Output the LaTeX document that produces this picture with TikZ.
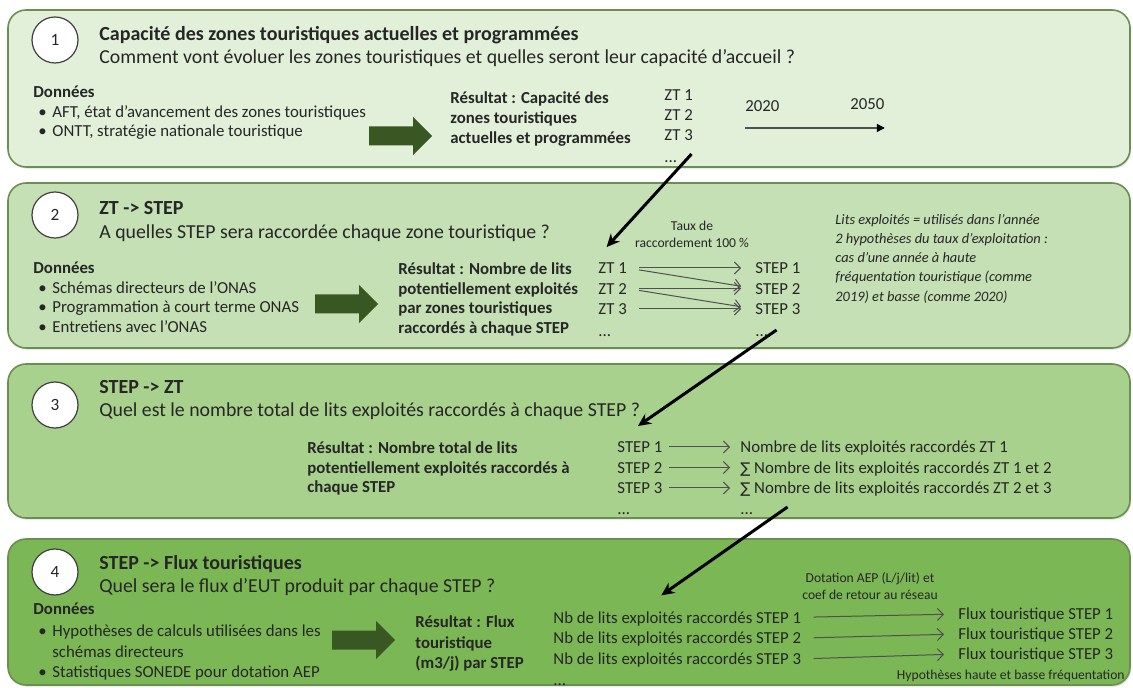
\documentclass[tikz,border=0pt]{standalone}
\usepackage{fontspec}
\setmainfont{Carlito}
\newfontfamily\symfont{DejaVu Sans}
\usepackage{tikz}
\usetikzlibrary{positioning,arrows.meta,shadows}
\definecolor{pone}{HTML}{E2F0D9}
\definecolor{ptwo}{HTML}{C5E0B4}
\definecolor{pthree}{HTML}{A9D18E}
\definecolor{pfour}{HTML}{7BB755}
\definecolor{panelline}{HTML}{6A8F50}
\definecolor{numline}{HTML}{404040}
\definecolor{arrowgreen}{HTML}{385723}
\definecolor{flowgrey}{HTML}{505050}
\definecolor{ink}{HTML}{262626}
\newcommand{\nsum}{{\symfont\fontsize{7.4}{9}\selectfont ∑}}
\tikzset{%
	panel/.style={
		draw=panelline,
		line width=0.8pt,
		rounded corners=9pt,
		drop shadow={opacity=0.25, shadow xshift=0.6pt, shadow yshift=-0.8pt}
	},
	stepnum/.style={
		circle,
		draw=numline,
		fill=white,
		line width=0.6pt,
		minimum size=23pt,
		inner sep=0pt,
		text=ink,
		font=\fontsize{8.6}{10}\selectfont
	},
	txt/.style={ anchor=west, inner sep=0pt, text=ink, text height=1.6ex, text depth=0.4ex, font=\fontsize{8.4}{10}\selectfont },
	txt-bold/.style={ txt, font=\bfseries\fontsize{8.4}{10}\selectfont },
	title/.style={ txt, font=\bfseries\fontsize{10}{12}\selectfont },
	question/.style={ txt, font=\fontsize{9.9}{12}\selectfont },
	note/.style={ txt, font=\itshape\fontsize{7.2}{9}\selectfont },
	tiny-txt/.style={ inner sep=0pt, text=ink, font=\fontsize{6.8}{8.6}\selectfont },
	flow/.style={ draw=flowgrey, line width=0.5pt, -{Straight Barb[length=3pt,width=6pt]}, shorten <=6pt, shorten >=7pt },
	timeline/.style={ draw=flowgrey, line width=0.6pt, -{Triangle[length=4pt,width=4pt,color=black]} },
	link/.style={ draw=black, line width=1.5pt, -{Stealth[length=6.5pt,width=6pt]} },
	fatarrow/.pic={ \fill[arrowgreen] (0,-9.5) -- (44,-9.5) -- (44,-19) -- (63,0) -- (44,19) -- (44,9.5) -- (0,9.5) -- cycle; },
}

\begin{document}
\begin{tikzpicture}[x=0.5pt, y=-0.5pt]
\useasboundingbox (0,0) rectangle (1133,688);

% panels
\foreach \p/\t/\b/\c in {1/10/167/pone, 2/183/348/ptwo, 3/364/518/pthree, 4/539/685/pfour}
	\draw[panel, fill=\c] (8,\t) rectangle (1130,\b);

% step numbers, titles and questions
\foreach \p/\y in {1/40, 2/215, 3/405, 4/572}
	\node[stepnum] (num-\p) at (55,\y) {\p};
\foreach \p/\y/\t in {1/35/Capacité des zones touristiques actuelles et programmées, 2/209/ZT -> STEP, 3/388/STEP -> ZT, 4/564/STEP -> Flux touristiques}
	\node[title] (title-\p) at (99,\y) {\t};
\foreach \p/\y/\t in {1/58/Comment vont évoluer les zones touristiques et quelles seront leur capacité d’accueil ?, 2/233/A quelles STEP sera raccordée chaque zone touristique ?, 3/411/Quel est le nombre total de lits exploités raccordés à chaque STEP ?, 4/587/Quel sera le flux d’EUT produit par chaque STEP ?}
	\node[question] (quest-\p) at (99,\y) {\t};

% data
\node[txt-bold] (data-1) at (33,92) {Données};
\foreach \t [count=\i] in {{AFT, état d’avancement des zones touristiques}, {ONTT, stratégie nationale touristique}} {
	\node[txt] (bul-1-\i) at (38,93+\i*19) {•};
	\node[txt] (src-1-\i) at (52,93+\i*19) {\t};
}
\node[txt-bold] (data-2) at (33,268) {Données};
\foreach \t [count=\i] in {Schémas directeurs de l’ONAS, Programmation à court terme ONAS, Entretiens avec l’ONAS} {
	\node[txt] (bul-2-\i) at (38,268+\i*19.5) {•};
	\node[txt] (src-2-\i) at (52,268+\i*19.5) {\t};
}
\node[txt-bold] (data-4) at (33,609) {Données};
\node[txt] (bul-4-1) at (38,631) {•};
\node[txt] (src-4-1) at (52,631) {Hypothèses de calculs utilisées dans les};
\node[txt] (src-4-1b) at (52,652) {schémas directeurs};
\node[txt] (bul-4-2) at (38,672) {•};
\node[txt] (src-4-2) at (52,672) {Statistiques SONEDE pour dotation AEP};

% big arrows
\pic at (369,136) {fatarrow};
\pic at (315,304) {fatarrow};
\pic at (332,640) {fatarrow};

% results
\foreach \t [count=\i] in {Résultat : Capacité des, zones touristiques, actuelles et programmées}
	\node[txt-bold] (res-1-\i) at (450,78+\i*20) {\t};
\foreach \t [count=\i] in {Résultat : Nombre de lits, potentiellement exploités, par zones touristiques, raccordés à chaque STEP}
	\node[txt-bold] (res-2-\i) at (398,249.5+\i*19.5) {\t};
\foreach \t [count=\i] in {Résultat : Nombre total de lits, potentiellement exploités raccordés à, chaque STEP}
	\node[txt-bold] (res-3-\i) at (307,428.5+\i*19.5) {\t};
\foreach \t [count=\i] in {Résultat : Flux, touristique, (m3/j) par STEP}
	\node[txt-bold] (res-4-\i) at (415,601.5+\i*20.5) {\t};

% panel 1: zones and horizon
\foreach \i in {1,2,3}
	\node[txt] (zta-\i) at (664,75+\i*20) {ZT \i};
\node[txt] (zta-4) at (664,157) {...};
\node[txt] (y2020) at (745,106) {2020};
\node[txt] (y2050) at (850,104) {2050};
\draw[timeline] ([yshift=-6pt]y2020.south west) -- ([yshift=-6pt]y2020.south west -| y2050.east);

% panel 2: zones to STEP
\foreach \i in {1,2,3} {
	\node[txt] (ztb-\i) at (598,247.5+\i*20.5) {ZT \i};
	\node[txt] (stepb-\i) at (755,247.5+\i*20.5) {STEP \i};
}
\node[txt] (ztb-4) at (598,331) {...};
\node[txt] (stepb-4) at (755,331) {...};
\draw[flow] (ztb-1.east) -- (stepb-1.west);
\draw[flow] (ztb-1.east) -- (stepb-2.west);
\draw[flow] (ztb-2.east) -- (stepb-2.west);
\draw[flow] (ztb-2.east) -- (stepb-3.west);
\draw[flow] (ztb-3.east) -- (stepb-3.west);
\node[tiny-txt, align=center] (rate) at (692,234) {Taux de\\raccordement 100 \%};
\foreach \t [count=\i] in {Lits exploités = utilisés dans l’année, 2 hypothèses du taux d’exploitation :, cas d’une année à haute, fréquentation touristique (comme, 2019) et basse (comme 2020)}
	\node[note] (note-\i) at (835,199+\i*19.3) {\t};

% panel 3: STEP to zones
\foreach \t [count=\i] in {Nombre de lits exploités raccordés ZT 1, \nsum\ Nombre de lits exploités raccordés ZT 1 et 2, \nsum\ Nombre de lits exploités raccordés ZT 2 et 3} {
	\node[txt] (stepc-\i) at (617,426.5+\i*20.5) {STEP \i};
	\node[txt] (sumc-\i) at (740,426.5+\i*20.5) {\t};
	\draw[flow, shorten <=3pt, shorten >=5pt] (stepc-\i.east) -- (sumc-\i.west);
}
\node[txt] (stepc-4) at (617,509) {...};
\node[txt] (sumc-4) at (740,509) {...};

% panel 4: STEP to flows
\foreach \i in {1,2,3} {
	\node[txt] (nbd-\i) at (553,596.5+\i*20.8) {Nb de lits exploités raccordés STEP \i};
	\node[txt] (fluxd-\i) at (958,594+\i*20) {Flux touristique STEP \i};
	\draw[flow] (nbd-\i.east) -- (fluxd-\i.west);
}
\node[txt] (nbd-4) at (553,680) {...};
\node[tiny-txt, align=center] (dotation) at (870,586) {Dotation AEP (L/j/lit) et\\coef de retour au réseau};
\node[tiny-txt, anchor=east] (hyp) at (1125,676) {Hypothèses haute et basse fréquentation};

% links between steps
\draw[link] ([shift={(14,-3)}]zta-4.east) -- ([shift={(-6,-11)}]ztb-1.north);
\draw[link] ([shift={(8,-1)}]stepb-4.east) -- ([shift={(-2,-11)}]stepc-1.north);
\draw[link] ([shift={(34,-2)}]sumc-4.east) -- ([shift={(-16,-12)}]nbd-1.north);

\end{tikzpicture}
\end{document}
